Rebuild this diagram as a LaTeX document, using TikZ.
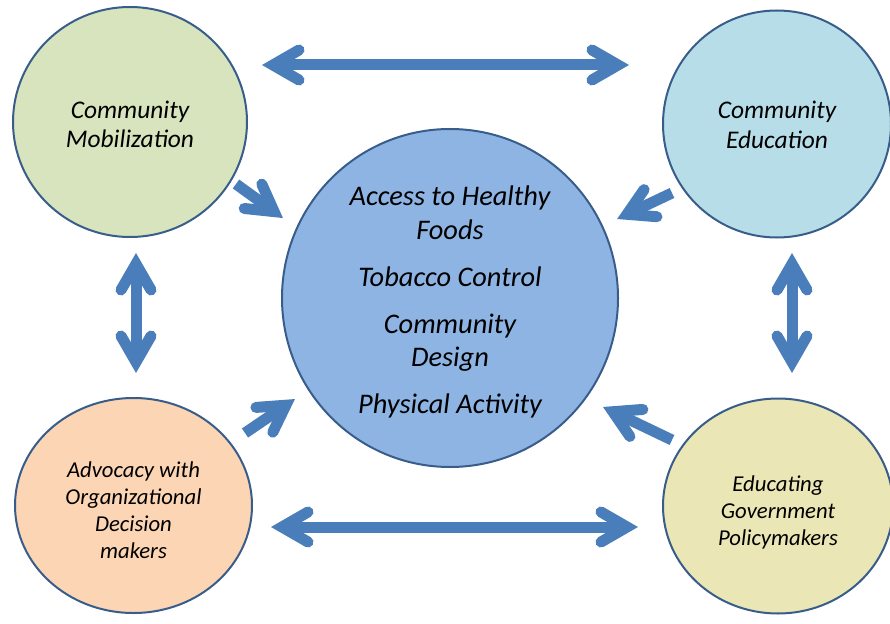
\documentclass[tikz,border=0pt]{standalone}
\usepackage{fontspec}
\setmainfont{Carlito}
\usetikzlibrary{shapes.geometric,decorations.markings}

\definecolor{rim}{HTML}{385D8A}
\definecolor{arrowblue}{HTML}{4A7EBB}
\definecolor{mobfill}{HTML}{D7E4BD}
\definecolor{edufill}{HTML}{B7DEE8}
\definecolor{corefill}{HTML}{8EB4E3}
\definecolor{advfill}{HTML}{FCD5B5}
\definecolor{govfill}{HTML}{EBE6B6}

\tikzset{
  bubble/.style={ellipse, draw=rim, line width=2bp, inner sep=0pt},
  caption/.style={align=center, inner sep=0pt},
  headmark/.style={draw=arrowblue, line width=11bp, line cap=round,
    line join=miter},
  fwdhead/.style={decoration={markings,
      mark=at position 1 with {\draw[headmark] (-26,15) -- (0,0) -- (-26,-15);}}},
  backhead/.style={decoration={markings,
      mark=at position 0 with {\draw[headmark] (26,15) -- (0,0) -- (26,-15);}}},
  onearrow/.style={draw=arrowblue, line width=11bp,
    postaction={fwdhead, decorate}},
  twoarrow/.style={draw=arrowblue, line width=11bp,
    postaction={fwdhead, decorate}, postaction={backhead, decorate}},
}

\begin{document}
\begin{tikzpicture}[x=1bp, y=-1bp]
  \useasboundingbox (0,0) rectangle (890,624);

  % outer strategy bubbles and the central focus areas
  \node[bubble, fill=mobfill, minimum width=234bp, minimum height=230bp] (mob) at (130,122) {};
  \node[bubble, fill=edufill, minimum width=228bp, minimum height=227bp] (edu) at (777,124) {};
  \node[bubble, fill=advfill, minimum width=237bp, minimum height=215bp] (adv) at (133.5,505.5) {};
  \node[bubble, fill=govfill, minimum width=230bp, minimum height=215bp] (gov) at (778,506) {};
  \node[bubble, fill=corefill, minimum width=336bp, minimum height=338bp] (core) at (450,298) {};

  % bubble texts
  \node[caption, font=\itshape\fontsize{25.5}{29.5}\selectfont] (mobtext)
        at ([yshift=-2.5bp]mob.center) {Community\\Mobilization};
  \node[caption, font=\itshape\fontsize{25.5}{29.5}\selectfont] (edutext)
        at ([yshift=-1bp]edu.center) {Community\\Education};
  \node[caption, font=\itshape\fontsize{22.8}{27}\selectfont] (advtext)
        at ([yshift=-5bp]adv.center) {Advocacy with\\Organizational\\Decision\\makers};
  \node[caption, font=\itshape\fontsize{22.8}{27}\selectfont] (govtext)
        at ([yshift=-6.5bp]gov.center) {Educating\\Government\\Policymakers};
  \node[caption, font=\itshape\fontsize{28.5}{34}\selectfont] (coretext)
        at ([yshift=-4bp]core.center)
        {Access to Healthy\\Foods\\[13bp]Tobacco Control\\[13bp]Community\\Design\\[13bp]Physical Activity};

  % arrow end points (head apexes and tails)
  \coordinate (topL) at (273,65);
  \coordinate (topR) at (618,65);
  \coordinate (botL) at (282,527);
  \coordinate (botR) at (627,527);
  \coordinate (leftU) at (136,264);
  \coordinate (leftD) at (136,362);
  \coordinate (rightU) at (792,264);
  \coordinate (rightD) at (792,362);
  \coordinate (mobTail) at (236,184);
  \coordinate (mobHead) at (274.1,211.6);
  \coordinate (eduTail) at (672,193);
  \coordinate (eduHead) at (627,214.3);
  \coordinate (govTail) at (672,440);
  \coordinate (govHead) at (612.9,411.7);
  \coordinate (advTail) at (245,433);
  \coordinate (advHead) at (285.9,405.2);

  % two-way links between neighbouring strategies
  \draw[twoarrow] (topL) -- (topR);
  \draw[twoarrow] (botL) -- (botR);
  \draw[twoarrow] (leftU) -- (leftD);
  \draw[twoarrow] (rightU) -- (rightD);

  % each strategy feeding the centre
  \draw[onearrow] (mobTail) -- (mobHead);
  \draw[onearrow] (eduTail) -- (eduHead);
  \draw[onearrow] (govTail) -- (govHead);
  \draw[onearrow] (advTail) -- (advHead);
\end{tikzpicture}
\end{document}
